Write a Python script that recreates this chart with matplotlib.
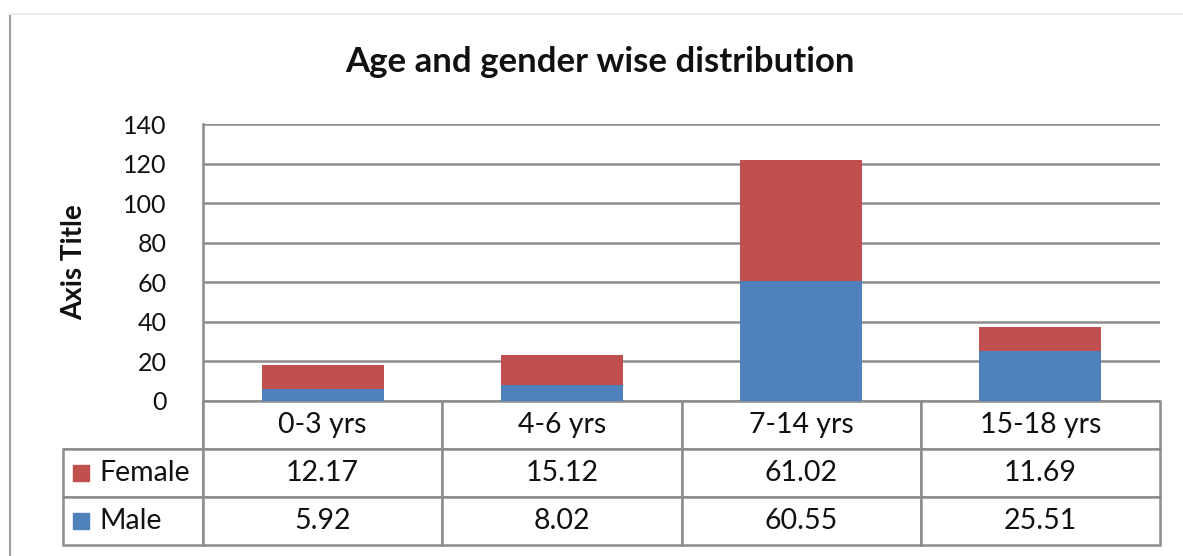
import numpy as np
import matplotlib
matplotlib.use("Agg")
import matplotlib.pyplot as plt
from matplotlib.lines import Line2D

# data
categories = ["0-3 yrs", "4-6 yrs", "7-14 yrs", "15-18 yrs"]
female = [12.17, 15.12, 61.02, 11.69]
male = [5.92, 8.02, 60.55, 25.51]
series_names = ["Female", "Male"]

plt.rcParams['font.family'] = ['Lato', 'DejaVu Sans']

red = '#C0504D'
blue = '#4F81BD'
grid_col = '#8c8c8c'
txt_col = '#111111'

W, H = 1183, 556
fig = plt.figure(figsize=(W / 100, H / 100), dpi=100)
fig.patch.set_facecolor('white')

# plot area in pixels: x 203..1160, y 124..401
left, right, top, bottom = 203, 1160, 124, 401
ax = fig.add_axes([left / W, 1 - bottom / H, (right - left) / W, (bottom - top) / H])

x = np.arange(len(categories))
ax.bar(x, male, width=0.51, color=blue, zorder=3)
ax.bar(x, female, width=0.51, bottom=male, color=red, zorder=3)

ax.set_xlim(-0.5, len(categories) - 0.5)
ax.set_ylim(0, 140)
ax.set_yticks(np.arange(0, 141, 20))
ax.set_xticks([])
ax.yaxis.grid(True, color=grid_col, linewidth=1.8, zorder=0)
ax.tick_params(axis='y', length=0, pad=26, labelsize=18, labelcolor=txt_col)
for s in ['top', 'right', 'bottom']:
    ax.spines[s].set_visible(False)
ax.spines['left'].set_color(grid_col)
ax.spines['left'].set_linewidth(1.8)
ax.set_ylabel("Axis Title", fontsize=20, fontweight='bold', labelpad=26, color=txt_col)

fig.text(600 / W, 1 - 62 / H, "Age and gender wise distribution", fontsize=25,
         fontweight='bold', ha='center', va='center', color='#111111')

# data table below the plot
tab_left, tab_bottom = 63, 545
cell_text = [[""] + categories,
             [series_names[0]] + ["%.2f" % v for v in female],
             [series_names[1]] + ["%.2f" % v for v in male]]
col_w = [140] + [(right - left) / len(categories)] * len(categories)
tab = ax.table(cellText=cell_text, colWidths=col_w, cellLoc='center',
               bbox=[(tab_left - left) / (right - left), -(tab_bottom - bottom) / (bottom - top),
                     (right - tab_left) / (right - left), (tab_bottom - bottom) / (bottom - top)])
tab.auto_set_font_size(False)
for (r, c), cell in tab.get_celld().items():
    cell.set_edgecolor(grid_col)
    cell.set_linewidth(1.8)
    cell.get_text().set_fontsize(20.5)
    cell.get_text().set_color(txt_col)
    if c == 0:
        cell.get_text().set_ha('left')
        cell._loc = 'left'
        cell.PAD = 0.26
tab[0, 0].visible_edges = 'BR'

# legend keys in the table
for i, col in enumerate([red, blue]):
    yk = 1 - (bottom + 48 * (i + 1) + 24) / H
    fig.add_artist(Line2D([81 / W], [yk], marker='s', markersize=11, color=col,
                          linestyle='none', transform=fig.transFigure))

# chart border
fig.add_artist(Line2D([10 / W, 10 / W], [0, 1 - 14 / H], color='#a0a0a0', linewidth=1.5))
fig.add_artist(Line2D([10 / W, 1], [1 - 14 / H, 1 - 14 / H], color='#ececec', linewidth=1.5))

fig.savefig("out.png", dpi=100)
